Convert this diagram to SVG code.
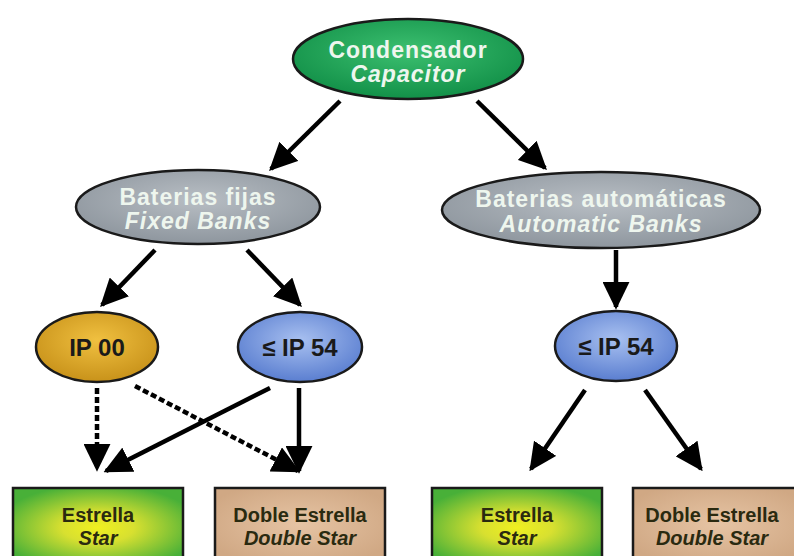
<svg xmlns="http://www.w3.org/2000/svg" width="794" height="556" viewBox="0 0 794 556">
<defs>
<radialGradient id="gGreen" cx="50%" cy="40%" r="60%"><stop offset="0" stop-color="#3cc070"/><stop offset="1" stop-color="#129048"/></radialGradient>
<radialGradient id="gGray" cx="50%" cy="40%" r="60%"><stop offset="0" stop-color="#b8bec4"/><stop offset="1" stop-color="#8e969e"/></radialGradient>
<radialGradient id="gGold" cx="50%" cy="40%" r="60%"><stop offset="0" stop-color="#f0c040"/><stop offset="1" stop-color="#c8921a"/></radialGradient>
<radialGradient id="gBlue" cx="50%" cy="40%" r="60%"><stop offset="0" stop-color="#a8c0f0"/><stop offset="1" stop-color="#5a7ed0"/></radialGradient>
<radialGradient id="gBox" cx="50%" cy="55%" r="60%"><stop offset="0" stop-color="#f0f020"/><stop offset="0.35" stop-color="#d8e030"/><stop offset="1" stop-color="#48b038"/></radialGradient>
<radialGradient id="gTan" cx="50%" cy="50%" r="60%"><stop offset="0" stop-color="#e6c4a4"/><stop offset="1" stop-color="#d0a884"/></radialGradient>
<marker id="ah" viewBox="0 0 10 10" refX="9" refY="5" markerWidth="6.2" markerHeight="6" markerUnits="strokeWidth" orient="auto" preserveAspectRatio="none"><path d="M0,0 L10,5 L0,10 z" fill="#000"/></marker>
</defs>
<style>
.sh{stroke:#1a1a1a;stroke-width:2.5}
.t{font-family:"Liberation Sans",Arial,sans-serif;font-weight:bold;text-anchor:middle}
.lt{fill:#eef6ee;font-size:23px;letter-spacing:1px}
.dk{fill:#1a1a1a;font-size:24px}
.bx{fill:#2a2a10;font-size:20px}
.it{font-style:italic}
.c{stroke:#000;stroke-width:4.5;fill:none;marker-end:url(#ah)}
.d{stroke-dasharray:6 3}
</style>
<rect width="794" height="556" fill="#fff"/>
<g id="connectors">
<line class="c" x1="340" y1="101" x2="271" y2="169"/>
<line class="c" x1="477" y1="101" x2="545" y2="168"/>
<line class="c" x1="155" y1="250" x2="102" y2="305"/>
<line class="c" x1="247" y1="250" x2="300" y2="305"/>
<line class="c" x1="616" y1="250" x2="616" y2="307"/>
<line class="c d" x1="97" y1="388" x2="97" y2="469"/>
<line class="c d" x1="135" y1="386" x2="298" y2="471"/>
<line class="c" x1="270" y1="388" x2="106" y2="471"/>
<line class="c" x1="299" y1="388" x2="299" y2="471"/>
<line class="c" x1="585" y1="390" x2="531" y2="469"/>
<line class="c" x1="645" y1="390" x2="701" y2="469"/>
</g>
<g id="capacitor">
<ellipse class="sh" cx="408" cy="59" rx="115" ry="40" fill="url(#gGreen)"/>
<text class="t lt" x="408" y="58">Condensador</text>
<text class="t lt it" x="408" y="82">Capacitor</text>
</g>
<g id="fixed">
<ellipse class="sh" cx="198" cy="207" rx="122" ry="37" fill="url(#gGray)"/>
<text class="t lt" x="198" y="205">Baterias fijas</text>
<text class="t lt it" x="198" y="229">Fixed Banks</text>
</g>
<g id="automatic">
<ellipse class="sh" cx="601" cy="210" rx="159" ry="38" fill="url(#gGray)"/>
<text class="t lt" x="601" y="207">Baterias automáticas</text>
<text class="t lt it" x="601" y="232">Automatic Banks</text>
</g>
<g id="ip00">
<ellipse class="sh" cx="97" cy="347" rx="61" ry="35" fill="url(#gGold)"/>
<text class="t dk" x="97" y="356">IP 00</text>
</g>
<g id="ip54a">
<ellipse class="sh" cx="300" cy="347" rx="62" ry="35" fill="url(#gBlue)"/>
<text class="t dk" x="300" y="356">≤ IP 54</text>
</g>
<g id="ip54b">
<ellipse class="sh" cx="616" cy="346" rx="61" ry="35" fill="url(#gBlue)"/>
<text class="t dk" x="616" y="355">≤ IP 54</text>
</g>
<g id="star1">
<rect class="sh" x="13" y="488" width="170" height="72" fill="url(#gBox)"/>
<text class="t bx" x="98" y="522">Estrella</text>
<text class="t bx it" x="98" y="545">Star</text>
</g>
<g id="dstar1">
<rect class="sh" x="215" y="488" width="170" height="72" fill="url(#gTan)"/>
<text class="t bx" x="300" y="522">Doble Estrella</text>
<text class="t bx it" x="300" y="545">Double Star</text>
</g>
<g id="star2">
<rect class="sh" x="432" y="488" width="170" height="72" fill="url(#gBox)"/>
<text class="t bx" x="517" y="522">Estrella</text>
<text class="t bx it" x="517" y="545">Star</text>
</g>
<g id="dstar2">
<rect class="sh" x="633" y="488" width="170" height="72" fill="url(#gTan)"/>
<text class="t bx" x="712" y="522">Doble Estrella</text>
<text class="t bx it" x="712" y="545">Double Star</text>
</g>
</svg>
